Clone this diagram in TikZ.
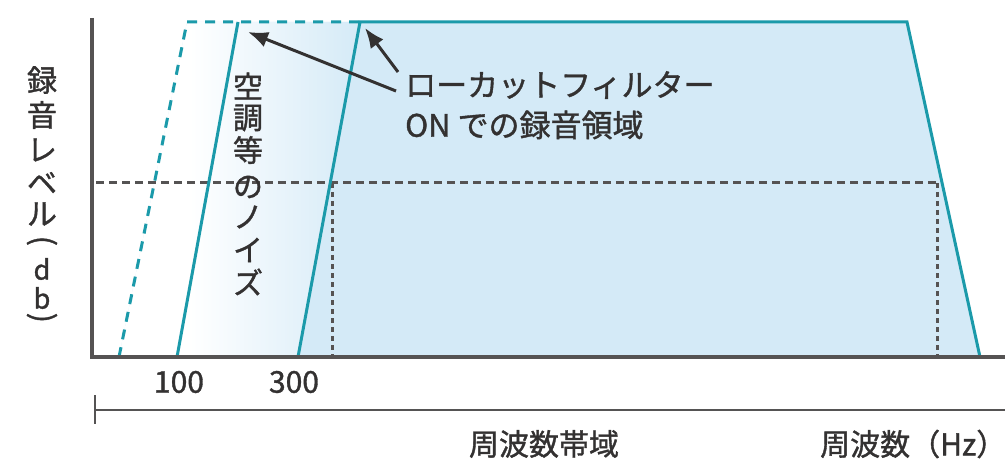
\documentclass[tikz,border=0pt]{standalone}
\usepackage{fontspec}
\setmainfont{Noto Sans CJK JP}[FakeBold=1.2,BoldFont=Noto Sans CJK JP]
\usetikzlibrary{arrows.meta}
\definecolor{lb}{HTML}{D4EAF7}
\definecolor{teal1}{HTML}{1B9AAA}
\definecolor{ax}{HTML}{555353}
\definecolor{txt}{HTML}{333131}
\tikzset{
  tealline/.style={draw=teal1, line width=3pt},
  tealdash/.style={draw=teal1, line width=3pt, dash pattern=on 10pt off 8pt},
  grayguide/.style={draw=ax, line width=3pt, dash pattern=on 8pt off 5pt},
  graydot/.style={draw=ax, line width=3pt, dash pattern=on 5pt off 4pt},
  axisline/.style={draw=ax, line width=3.4pt},
  lbl/.style={text=txt, inner sep=0pt, font=\bfseries\fontsize{30}{34}\selectfont},
  vchar/.style={text=txt, inner sep=0pt, font=\bfseries\fontsize{30}{32}\selectfont},
  vlat/.style={text=txt, inner sep=0pt, font=\bfseries\fontsize{27}{30}\selectfont},
  callout/.style={draw=txt, line width=3pt, -{Latex[length=20pt,width=16pt]}}
}
\begin{document}
\begin{tikzpicture}[x=1pt,y=-1pt]
\useasboundingbox (0,0) rectangle (1005,468);
% fills
\fill[lb] (119,357) -- (187,22) -- (907,22) -- (980,357) -- cycle;
\begin{scope}
  \clip (119,357) -- (187,22) -- (360,22) -- (298,357) -- cycle;
  \fill[white] (100,0) rectangle (192,360);
  \shade[left color=white, right color=lb] (190,0) rectangle (362,360);
\end{scope}
% guides
\draw[grayguide] (96,183) -- (940,183);
\draw[graydot] (332,183) -- (332,357);
\draw[graydot] (937,183) -- (937,357);
% curves
\draw[tealdash] (119,357) -- (187,22) -- (360,22);
\draw[tealline] (177,357) -- (238,22);
\draw[tealline, line join=miter] (298,357) -- (360,22) -- (907,22) -- (980,357);
% axes
\draw[axisline] (92,18) -- (92,357) -- (1005,357);
\draw[axisline, line width=2.6pt] (95,410) -- (1005,410);
\draw[axisline, line width=2.6pt] (95,395) -- (95,424);
% tick labels
\node[lbl] (t100) at (179,382) {100};
\node[lbl] (t300) at (294,382) {300};
% bottom labels
\node[lbl] (band) at (544,444) {周波数帯域};
\node[lbl, anchor=west] (hz) at (820,444) {周波数（Hz）};
% y axis label (vertical)
\foreach \c/\y [count=\i] in {録/80, 音/115, レ/150, ベ/183, ル/214}
  \node[vchar] (ya\i) at (42,\y) {\c};
\node[vlat] (yd) at (42,269) {d};
\node[vlat] (yb) at (42,298) {b};
\node[vchar] (yp1) at (42,243) {\rotatebox[origin=c]{-90}{(}};
\node[vchar] (yp2) at (42,320) {\rotatebox[origin=c]{-90}{)}};
% noise label (vertical)
\foreach \c/\y [count=\i] in {空/86, 調/118, 等/150, の/187, ノ/217, イ/250, ズ/282}
  \node[vchar] (nz\i) at (248,\y) {\c};
% callout
\node[lbl, anchor=west, font=\bfseries\fontsize{31}{35}\selectfont] (lc1) at (405,85) {ローカットフィルター};
\node[lbl, anchor=west, font=\bfseries\fontsize{31}{35}\selectfont] (lc2) at (405,125) {ON での録音領域};
\coordinate (s1) at (396,91);
\coordinate (s2) at (398,72);
\coordinate (e1) at (248,32);
\coordinate (e2) at (365,28);
\draw[callout] (s1) -- (e1);
\draw[callout] (s2) -- (e2);
\end{tikzpicture}
\end{document}
